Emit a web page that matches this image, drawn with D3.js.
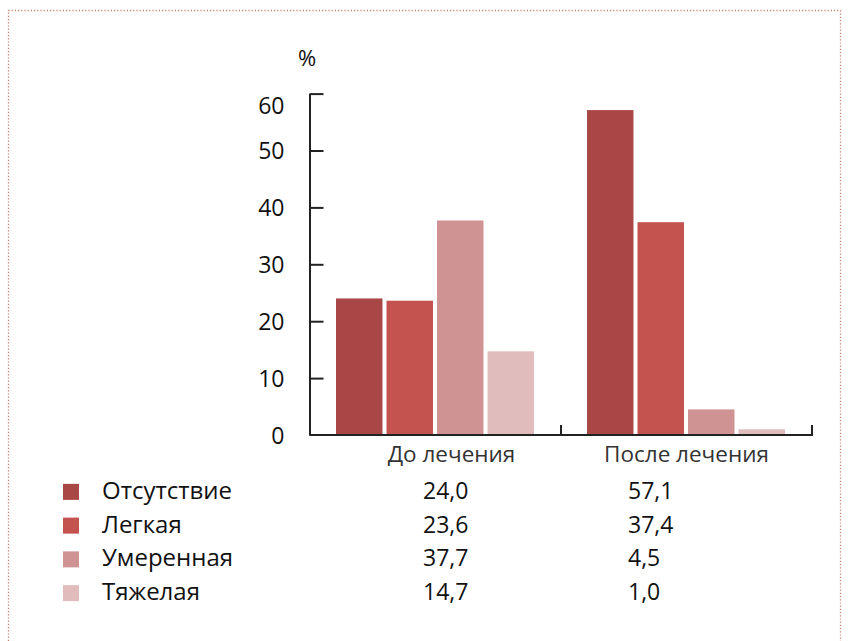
<!DOCTYPE html>
<html>
<head>
<meta charset="utf-8">
<script src="https://cdn.jsdelivr.net/npm/d3@7/dist/d3.min.js"></script>
<style>
  html, body { margin: 0; padding: 0; background: #fff; }
  svg { display: block; }
  text { font-family: "Open Sans", "Noto Sans", sans-serif; fill: #111; }
</style>
</head>
<body>
<svg id="chart" width="848" height="641"></svg>
<script>
// Treatment groups (x axis)
const groups = ["До лечения", "После лечения"];
// Severity levels (series)
const series = ["Отсутствие", "Легкая", "Умеренная", "Тяжелая"];
// Percent of patients per severity level, before / after treatment
const beforeValues = [24.0, 23.6, 37.7, 14.7];
const afterValues = [57.1, 37.4, 4.5, 1.0];
// Y axis ticks
const yTicks = [0, 10, 20, 30, 40, 50, 60];
const colors = ["#a84745", "#c4524f", "#d09393", "#e0bcbc"];

const valuesByGroup = [beforeValues, afterValues];
const fmt = v => v.toFixed(1).replace(".", ",");

const svg = d3.select("#chart");

// dotted frame (top, left, right edges)
const frame = svg.append("g")
  .attr("fill", "none")
  .attr("stroke", "#c4806f")
  .attr("stroke-width", 1.3)
  .attr("stroke-dasharray", "1.2,2");
frame.append("path").attr("d", "M8.5,641 L8.5,10.5 L840.5,10.5 L840.5,641");

const x0 = d3.scaleBand().domain(groups).range([310, 812]);
const x1 = d3.scaleBand().domain(series).range([26, 224]).paddingInner(0.08);
const y = d3.scaleLinear().domain([0, 60]).range([435, 93.6]);

// bars
const gGroups = svg.append("g").selectAll("g")
  .data(groups)
  .join("g")
  .attr("transform", d => `translate(${x0(d)},0)`);

gGroups.selectAll("rect")
  .data((g, i) => series.map((s, j) => ({ s, v: valuesByGroup[i][j], c: colors[j] })))
  .join("rect")
  .attr("x", d => x1(d.s))
  .attr("width", x1.bandwidth())
  .attr("y", d => y(d.v))
  .attr("height", d => y(0) - y(d.v))
  .attr("fill", d => d.c);

// y axis with inward ticks
const yAxis = svg.append("g")
  .attr("transform", "translate(309.5,0)")
  .call(d3.axisRight(y).tickValues(yTicks).tickSize(14).tickSizeOuter(0).tickFormat(d => d));
yAxis.select(".domain").attr("stroke", "#222").attr("stroke-width", 2);
yAxis.selectAll(".tick line").attr("stroke", "#222").attr("stroke-width", 2);
yAxis.selectAll(".tick text")
  .attr("x", -25)
  .attr("text-anchor", "end")
  .attr("dy", "0.36em")
  .attr("transform", d => d === 60 ? "translate(0,12)" : null)
  .style("font-size", "23px")
  .style("font-family", "'Open Sans', sans-serif")
  .attr("fill", "#111");
yAxis.selectAll(".tick").filter(d => d === 0).select("line").remove();

// x axis: baseline with upward ticks at group boundaries
const xAxis = svg.append("g");
xAxis.append("line")
  .attr("x1", 309.5).attr("x2", x0.range()[1] + 1)
  .attr("y1", y(0)).attr("y2", y(0))
  .attr("stroke", "#222").attr("stroke-width", 2);
xAxis.selectAll("line.tick")
  .data(groups)
  .join("line")
  .attr("class", "tick")
  .attr("x1", d => x0(d) + x0.bandwidth())
  .attr("x2", d => x0(d) + x0.bandwidth())
  .attr("y1", y(0)).attr("y2", y(0) - 10)
  .attr("stroke", "#222").attr("stroke-width", 2);
xAxis.selectAll("text")
  .data(groups)
  .join("text")
  .attr("x", (d, i) => x0(d) + x0.bandwidth() / 2 + (i === 0 ? 16 : 0))
  .attr("y", 462)
  .attr("text-anchor", "middle")
  .style("font-size", "22.5px")
  .style("fill", "#333")
  .text(d => d);

// unit label
svg.append("text")
  .attr("x", 307).attr("y", 66)
  .attr("text-anchor", "middle")
  .style("font-size", "22px")
  .text("%");

// legend table with values per group
const rowY = d3.scaleBand().domain(series).range([475, 610]);
const colX = [423, 628];
const legend = svg.append("g");
const rows = legend.selectAll("g")
  .data(series)
  .join("g")
  .attr("transform", d => `translate(0,${rowY(d) + rowY.bandwidth() / 2})`);
rows.append("rect")
  .attr("x", 63).attr("y", -8)
  .attr("width", 16).attr("height", 16)
  .attr("fill", (d, i) => colors[i]);
rows.append("text")
  .attr("x", 102).attr("y", 7)
  .style("font-size", "24px")
  .text(d => d);
rows.selectAll("text.val")
  .data((d, i) => valuesByGroup.map((vals, k) => ({ v: vals[i], k })))
  .join("text")
  .attr("class", "val")
  .attr("x", d => colX[d.k])
  .attr("y", 7)
  .style("font-size", "23px")
  .text(d => fmt(d.v));
</script>
</body>
</html>
